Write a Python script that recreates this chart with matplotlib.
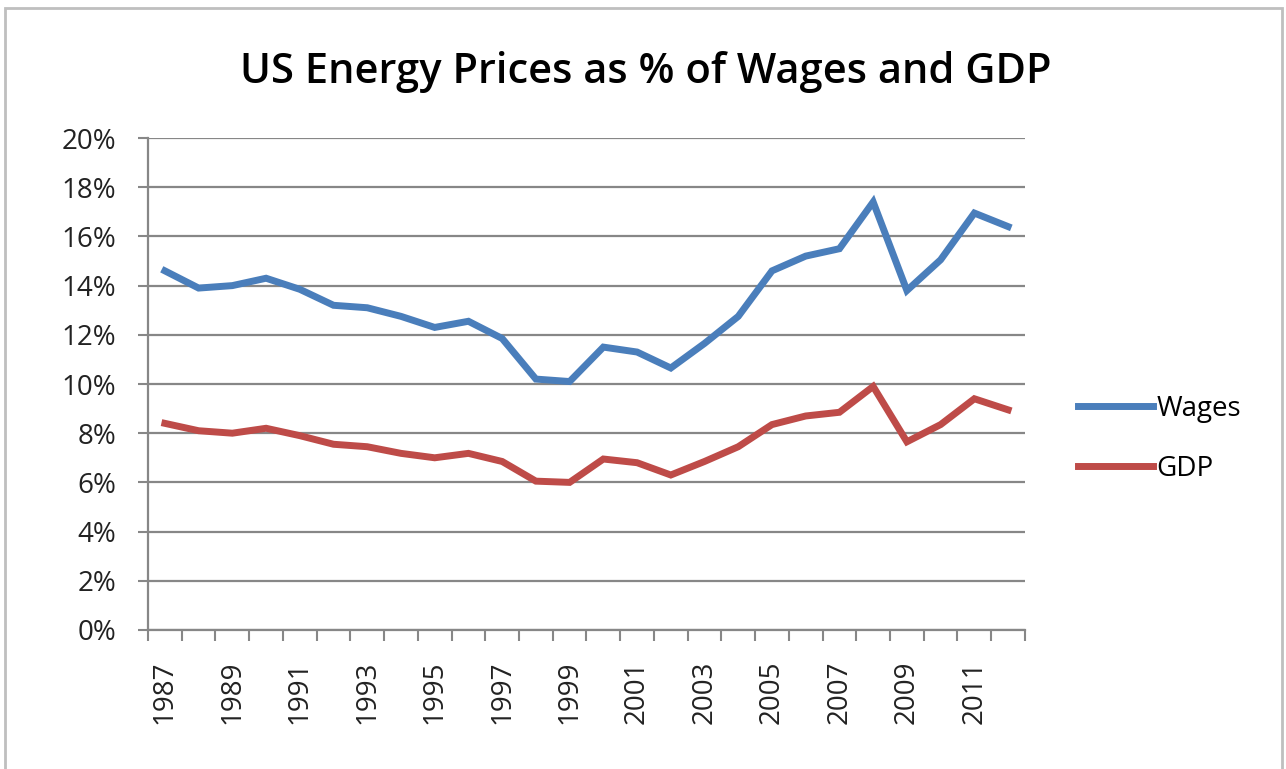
import matplotlib.pyplot as plt
import numpy as np
from matplotlib.patches import Rectangle

years = list(range(1987, 2013))
wages = [14.6, 13.9, 14.0, 14.3, 13.85, 13.2, 13.1, 12.75, 12.3, 12.55, 11.85,
         10.2, 10.1, 11.5, 11.3, 10.65, 11.65, 12.75, 14.6, 15.2, 15.5, 17.4,
         13.8, 15.05, 16.95, 16.4]
gdp = [8.4, 8.1, 8.0, 8.2, 7.9, 7.55, 7.45, 7.18, 7.0, 7.18, 6.85,
       6.05, 6.0, 6.95, 6.8, 6.3, 6.85, 7.45, 8.35, 8.7, 8.85, 9.9,
       7.65, 8.35, 9.4, 8.95]
y_ticks = [0, 2, 4, 6, 8, 10, 12, 14, 16, 18, 20]

BLUE = '#4A7EBB'
RED = '#BE4B48'
GRID = '#878787'

plt.rcParams['font.family'] = ['Open Sans', 'DejaVu Sans']

fig = plt.figure(figsize=(12.86, 7.69), dpi=100)
fig.patches.append(Rectangle((0.004, -0.01), 0.993, 1.0, transform=fig.transFigure,
                             fill=False, edgecolor='#BFBFBF', linewidth=2))

ax = fig.add_axes([0.1151, 0.1808, 0.6819, 0.6397])
x = np.arange(len(years))
ax.plot(x, wages, color=BLUE, linewidth=5, label='Wages', solid_joinstyle='miter')
ax.plot(x, gdp, color=RED, linewidth=5, label='GDP', solid_joinstyle='miter')

ax.set_xlim(-0.5, len(years) - 0.5)
ax.set_ylim(0, 20)
ax.set_yticks(y_ticks)
ax.set_yticklabels([f'{v}%' for v in y_ticks], fontsize=20, color='#222222')
ax.yaxis.grid(True, color=GRID, linewidth=1.6)
ax.set_axisbelow(True)

ax.set_xticks(x[::2])
ax.set_xticklabels([str(y) for y in years[::2]], rotation=90, fontsize=20, color='#222222')
ax.set_xticks(np.arange(len(years) + 1) - 0.5, minor=True)
ax.tick_params(axis='x', which='major', length=0, pad=22)
ax.tick_params(axis='x', which='minor', length=8, width=1.5, color=GRID)
ax.tick_params(axis='y', length=7, width=1.5, color=GRID, pad=16)

for s in ['top', 'right']:
    ax.spines[s].set_visible(False)
for s in ['left', 'bottom']:
    ax.spines[s].set_color(GRID)
    ax.spines[s].set_linewidth(1.6)

ax.legend(loc='center left', bbox_to_anchor=(1.060, 0.388), frameon=False,
          fontsize=20, handlelength=2.7, handletextpad=0.15, labelspacing=1.15,
          borderpad=0, borderaxespad=0)

fig.text(0.502, 0.906, 'US Energy Prices as % of Wages and GDP', ha='center', va='center',
         fontsize=30, fontweight='semibold')

fig.savefig('out.png', dpi=100)
